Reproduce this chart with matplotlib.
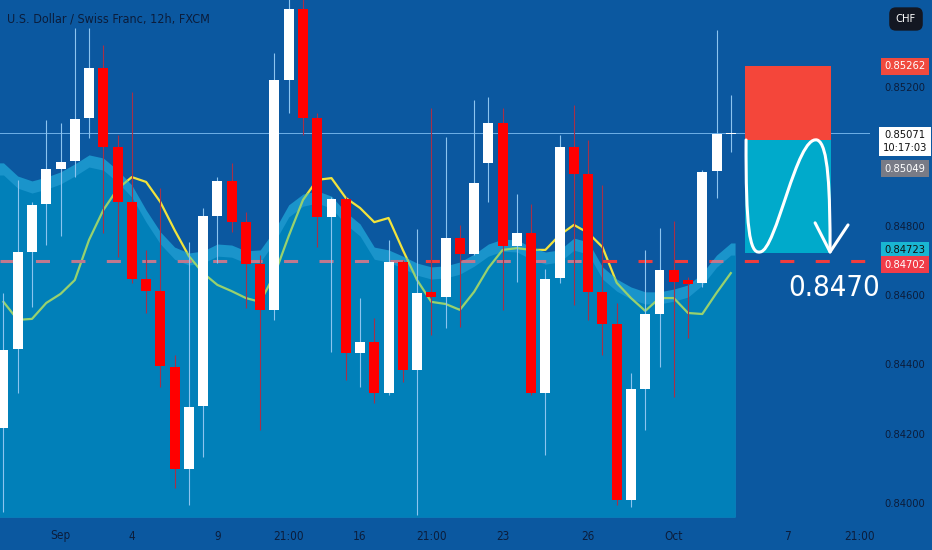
import numpy as np
import matplotlib
matplotlib.use("Agg")
import matplotlib.pyplot as plt
import matplotlib.transforms as mtransforms
from matplotlib.patches import Rectangle, PathPatch
from matplotlib.path import Path

# ---------------- data (12h candles, USD/CHF) ----------------
opens = [0.84219, 0.84447, 0.84727, 0.84865, 0.84966, 0.84989, 0.85113, 0.85258, 0.85030, 0.84871,
         0.84649, 0.84614, 0.84395, 0.84101, 0.84283, 0.84831, 0.84932, 0.84813, 0.84692, 0.84560,
         0.85223, 0.85428, 0.85113, 0.84828, 0.84880, 0.84436, 0.84467, 0.84320, 0.84698, 0.84387,
         0.84612, 0.84597, 0.84767, 0.84721, 0.84984, 0.85099, 0.84744, 0.84782, 0.84320, 0.84652,
         0.85030, 0.84952, 0.84612, 0.84519, 0.84012, 0.84332, 0.84548, 0.84675, 0.84646, 0.84638,
         0.84961, 0.85066]
highs = [0.84609, 0.84935, 0.84871, 0.85108, 0.85099, 0.85373, 0.85373, 0.85324, 0.85064, 0.85188,
         0.84733, 0.84912, 0.84430, 0.84756, 0.84854, 0.84943, 0.84984, 0.84842, 0.84718, 0.85301,
         0.85460, 0.85460, 0.85128, 0.84885, 0.84885, 0.84594, 0.84537, 0.84762, 0.84704, 0.84793,
         0.85142, 0.85059, 0.84805, 0.85165, 0.85174, 0.85142, 0.84894, 0.84865, 0.84678, 0.85064,
         0.85151, 0.85050, 0.84920, 0.84580, 0.84378, 0.84733, 0.84796, 0.84816, 0.84655, 0.84962,
         0.85367, 0.85180]
lows = [0.83977, 0.84320, 0.84568, 0.84747, 0.84773, 0.84943, 0.85056, 0.84782, 0.84713, 0.84638,
        0.84551, 0.84338, 0.84046, 0.83997, 0.84136, 0.84695, 0.84785, 0.84565, 0.84213, 0.84531,
        0.85128, 0.85064, 0.84741, 0.84438, 0.84358, 0.84338, 0.84291, 0.84314, 0.84352, 0.83968,
        0.84488, 0.84508, 0.84511, 0.84718, 0.84871, 0.84560, 0.84640, 0.84315, 0.84141, 0.84638,
        0.84574, 0.84531, 0.84430, 0.83997, 0.83991, 0.84213, 0.84395, 0.84309, 0.84479, 0.84626,
        0.84883, 0.85015]
closes = [0.84444, 0.84727, 0.84863, 0.84966, 0.84987, 0.85111, 0.85258, 0.85030, 0.84871, 0.84649,
          0.84614, 0.84398, 0.84101, 0.84280, 0.84831, 0.84932, 0.84813, 0.84692, 0.84560, 0.85223,
          0.85428, 0.85113, 0.84828, 0.84880, 0.84436, 0.84467, 0.84320, 0.84698, 0.84387, 0.84609,
          0.84597, 0.84767, 0.84721, 0.84926, 0.85099, 0.84744, 0.84782, 0.84320, 0.84649, 0.85030,
          0.84952, 0.84612, 0.84519, 0.84012, 0.84332, 0.84548, 0.84675, 0.84640, 0.84635, 0.84958,
          0.85067, 0.85071]

# upper envelope of the cloud and the moving average
envelope = [0.84984, 0.84946, 0.84932, 0.84943, 0.84958, 0.84981, 0.85007, 0.84998, 0.84963, 0.84920,
            0.84848, 0.84785, 0.84741, 0.84724, 0.84730, 0.84750, 0.84747, 0.84730, 0.84733, 0.84790,
            0.84863, 0.84894, 0.84903, 0.84888, 0.84842, 0.84808, 0.84741, 0.84733, 0.84715, 0.84695,
            0.84684, 0.84687, 0.84698, 0.84721, 0.84750, 0.84764, 0.84762, 0.84741, 0.84727, 0.84733,
            0.84767, 0.84756, 0.84684, 0.84649, 0.84626, 0.84612, 0.84612, 0.84620, 0.84632, 0.84666,
            0.84718, 0.84753]
ma = [0.84583, 0.84531, 0.84534, 0.84580, 0.84606, 0.84646, 0.84762, 0.84848, 0.84909, 0.84943,
      0.84929, 0.84871, 0.84790, 0.84715, 0.84666, 0.84632, 0.84614, 0.84594, 0.84583, 0.84661,
      0.84773, 0.84877, 0.84935, 0.84940, 0.84883, 0.84854, 0.84813, 0.84825, 0.84733, 0.84646,
      0.84583, 0.84577, 0.84560, 0.84612, 0.84681, 0.84733, 0.84738, 0.84733, 0.84733, 0.84776,
      0.84805, 0.84782, 0.84741, 0.84638, 0.84594, 0.84557, 0.84594, 0.84594, 0.84551, 0.84548,
      0.84609, 0.84666]

tick_pos = [4, 9, 15, 20, 25, 30, 35, 41, 47, 55, 60]
tick_labels = ["Sep", "4", "9", "21:00", "16", "21:00", "23", "26", "Oct", "7", "21:00"]
axis_prices = [0.852, 0.848, 0.846, 0.844, 0.842, 0.840]

last_price = 0.85071
entry = 0.85049
stop = 0.85262
target = 0.84723
level = 0.84702
countdown = "10:17:03"
big_label = "0.8470"
currency = "CHF"
title = "U.S. Dollar / Swiss Franc, 12h, FXCM"

# drawn path on the position box (index, price)
curve_pts = [(52.07, 0.85050), (52.05, 0.84800), (52.30, 0.84720), (53.05, 0.84727),
             (54.2, 0.84730), (55.6, 0.85065), (57.05, 0.85050),
             (57.85, 0.85040), (57.96, 0.84900), (57.96, 0.84727)]
arrow_pts = [(56.91, 0.84811), (57.96, 0.84727), (59.22, 0.84805)]
box_x = [52.0, 58.03]

# ---------------- style ----------------
BG = "#0b58a0"
FILL = "#0180b9"
BAND = "#1a94cb"
TXT = "#0c1d3b"
FONT = dict(family="DejaVu Sans", stretch="condensed")

W, H = 932, 550
fig = plt.figure(figsize=(W / 100, H / 100), dpi=100, facecolor=BG)
ax = fig.add_axes([0, 33 / H, 870 / W, 517 / H], facecolor=BG)
ax.set_xlim(-0.245, 60.76)
ax.set_ylim(0.839625, 0.854538)
for s in ax.spines.values():
    s.set_visible(False)
ax.set_yticks([])

x = np.arange(len(opens))
ybot = 0.839625

# lines under the cloud
ax.plot(x, ma, color="#f2e33c", lw=1.6, zorder=1)
ax.axhline(level, color="#f03c3c", lw=2.2, ls=(0, (4.6, 7.0)), zorder=1)
ax.axhline(last_price, color="#6fb0e8", lw=0.7, zorder=1)

# cloud
env = np.array(envelope)
xe = np.concatenate([[-0.3], x, [51.3]])
ye = np.concatenate([[env[0]], env, [env[-1]]])
band = 0.00035
cloud = ax.fill_between(xe, ybot, ye, color=BAND, lw=0, zorder=2)
ax.fill_between(xe, ybot, ye - band, color=FILL, lw=0, zorder=2)
clip = cloud.get_paths()[0]

# lines seen through the cloud
g, = ax.plot(x, ma, color="#98d16e", lw=1.6, zorder=3)
g.set_clip_path(clip, ax.transData)
d = ax.axhline(level, color="#c0788e", lw=2.2, ls=(0, (4.6, 7.0)), zorder=3)
d.set_clip_path(clip, ax.transData)

# candles
for i in range(len(opens)):
    up = closes[i] >= opens[i]
    ax.vlines(i, lows[i], highs[i], color="#8cc4ef" if up else "#a83048", lw=0.8, zorder=4)
    lo = min(opens[i], closes[i])
    h = max(abs(closes[i] - opens[i]), 0.00003)
    ax.add_patch(Rectangle((i - 0.35, lo), 0.7, h, fc="#ffffff" if up else "#ff0000",
                           ec="none", zorder=5))

# position tool
ax.add_patch(Rectangle((box_x[0], entry), box_x[1] - box_x[0], stop - entry,
                       fc="#f4463a", ec="none", zorder=2))
ax.add_patch(Rectangle((box_x[0], target), box_x[1] - box_x[0], entry - target,
                       fc="#00aacb", ec="none", zorder=2))
codes = [Path.MOVETO, Path.CURVE4, Path.CURVE4, Path.CURVE4,
         Path.CURVE4, Path.CURVE4, Path.CURVE4,
         Path.CURVE4, Path.CURVE4, Path.CURVE4]
ax.add_patch(PathPatch(Path(curve_pts, codes), fc="none", ec="white", lw=2.2,
                       capstyle="round", zorder=6))
ax.plot([p[0] for p in arrow_pts], [p[1] for p in arrow_pts], color="white", lw=2.2,
        solid_capstyle="round", zorder=6)
ax.text(58.25, 0.84623, big_label, color="white", fontsize=21, ha="center", va="center",
        zorder=6, **FONT)

# x axis
ax.set_xticks(tick_pos)
ax.set_xticklabels(tick_labels, color=TXT, fontsize=8.5, **FONT)
ax.tick_params(axis="x", length=0, pad=9)

# price scale
tr = mtransforms.blended_transform_factory(fig.transFigure, ax.transData)
xl = 905 / W
for p in axis_prices:
    ax.text(xl, p, f"{p:.5f}", transform=tr, color=TXT, fontsize=8, ha="center",
            va="center", clip_on=False, **FONT)


def tag(price, txt, fc, tc, dy=0.0):
    ax.text(xl, price + dy, txt, transform=tr, color=tc, fontsize=8, ha="center",
            va="center", clip_on=False, linespacing=1.3,
            bbox=dict(boxstyle="square,pad=0.3", fc=fc, ec="none"), **FONT)


tag(stop, f"{stop:.5f}", "#f04a3e", "white")
tag(last_price, f"{last_price:.5f}\n{countdown}", "white", "#111111", dy=-0.00025)
tag(entry, f"{entry:.5f}", "#787b86", "white", dy=-0.00082)
tag(target, f"{target:.5f}", "#19b6d2", "#111111", dy=0.00010)
tag(level, f"{level:.5f}", "#f03c48", "white", dy=-0.00012)

fig.text(906 / W, 1 - 19 / H, currency, color="white", fontsize=8, ha="center", va="center",
         bbox=dict(boxstyle="round,pad=0.6", fc="#131722", ec="none"), **FONT)
fig.text(7 / W, 1 - 19 / H, title, color=TXT, fontsize=9, ha="left", va="center",
         **FONT)

fig.savefig("out.png", dpi=100, facecolor=BG)
